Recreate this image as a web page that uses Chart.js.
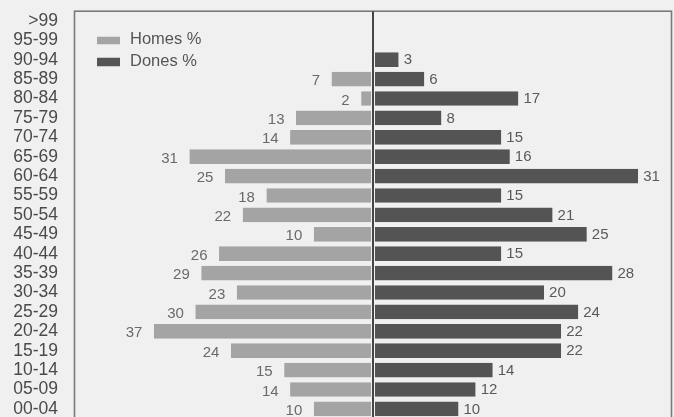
<!DOCTYPE html>
<html>
<head>
<meta charset="utf-8">
<script src="https://cdn.jsdelivr.net/npm/chart.js@4.4.1/dist/chart.umd.min.js"></script>
<style>
  html, body { margin: 0; padding: 0; background: #f0f0f0; overflow: hidden; width: 674px; height: 417px; }
  #wrap { width: 674px; height: 424px; }
</style>
</head>
<body>
<div id="wrap"><canvas id="c" width="674" height="424"></canvas></div>
<script>
const categories = ['>99','95-99','90-94','85-89','80-84','75-79','70-74','65-69','60-64','55-59','50-54','45-49','40-44','35-39','30-34','25-29','20-24','15-19','10-14','05-09','00-04'];
const homes = [null, null, null, 7, 2, 13, 14, 31, 25, 18, 22, 10, 26, 29, 23, 30, 37, 24, 15, 14, 10];
const dones = [null, null, 3, 6, 17, 8, 15, 16, 31, 15, 21, 25, 15, 28, 20, 24, 22, 22, 14, 12, 10];
const seriesNames = ['Homes %', 'Dones %'];
const seriesColors = ['#a4a4a4', '#545454'];
const BG = '#f0f0f0';

const bgPlugin = {
  id: 'bg',
  beforeDraw(chart) {
    const ctx = chart.ctx;
    ctx.save();
    ctx.fillStyle = BG;
    ctx.fillRect(0, 0, chart.width, chart.height);
    ctx.restore();
  }
};

const decorPlugin = {
  id: 'decor',
  afterDatasetsDraw(chart) {
    const ctx = chart.ctx;
    const a = chart.chartArea;
    ctx.save();
    // frame
    ctx.strokeStyle = '#7a7a7a';
    ctx.lineWidth = 1.6;
    ctx.strokeRect(a.left, a.top, a.right - a.left, a.bottom - a.top);
    // centre line
    const x0 = chart.scales.xh.getPixelForValue(0);
    ctx.strokeStyle = '#454545';
    ctx.lineWidth = 2;
    ctx.beginPath();
    ctx.moveTo(x0, a.top);
    ctx.lineTo(x0, a.bottom);
    ctx.stroke();

    // value labels
    ctx.font = '15px "Liberation Sans", Arial, sans-serif';
    ctx.textBaseline = 'middle';
    chart.data.datasets.forEach((ds, di) => {
      const meta = chart.getDatasetMeta(di);
      const src = di === 0 ? homes : dones;
      meta.data.forEach((bar, i) => {
        const v = src[i];
        if (v === null || v === undefined) return;
        if (di === 0) {
          ctx.fillStyle = '#6a6a6a';
          ctx.textAlign = 'right';
          ctx.fillText(String(v), bar.x - 11.5, bar.y + 2);
        } else {
          ctx.fillStyle = '#5a5a5a';
          ctx.textAlign = 'left';
          ctx.fillText(String(v), bar.x + 5, bar.y + 0.5);
        }
      });
    });

    // legend
    ctx.font = '16.5px "Liberation Sans", Arial, sans-serif';
    ctx.textAlign = 'left';
    ctx.textBaseline = 'middle';
    const items = [{y: 40.5, h: 7.5}, {y: 62, h: 8.5}];
    chart.data.datasets.forEach((ds, di) => {
      const it = items[di];
      ctx.fillStyle = ds.backgroundColor;
      ctx.fillRect(97, it.y - it.h / 2, 23, it.h);
      ctx.fillStyle = '#555555';
      ctx.fillText(ds.label, 130, it.y - 1);
    });
    ctx.restore();
  }
};

new Chart(document.getElementById('c'), {
  type: 'bar',
  data: {
    labels: categories,
    datasets: [
      {
        label: seriesNames[0],
        data: homes.map(v => v === null ? null : -v),
        backgroundColor: seriesColors[0],
        borderColor: BG,
        borderWidth: {left: 0, top: 0, bottom: 0, right: 2},
        borderSkipped: false,
        xAxisID: 'xh',
        grouped: false,
        barPercentage: 0.76,
        categoryPercentage: 1
      },
      {
        label: seriesNames[1],
        data: dones,
        backgroundColor: seriesColors[1],
        borderColor: BG,
        borderWidth: {left: 2, top: 0, bottom: 0, right: 0},
        borderSkipped: false,
        xAxisID: 'xd',
        grouped: false,
        barPercentage: 0.76,
        categoryPercentage: 1
      }
    ]
  },
  options: {
    indexAxis: 'y',
    responsive: false,
    animation: false,
    devicePixelRatio: 1,
    layout: { padding: { top: 11.2, right: 2.5, bottom: 5.4, left: 0 } },
    plugins: { legend: { display: false }, tooltip: { enabled: false } },
    scales: {
      xh: { type: 'linear', position: 'bottom', min: -50.4, max: 50.4, display: false },
      xd: { type: 'linear', position: 'bottom', min: -34.9, max: 34.9, display: false },
      y: {
        type: 'category',
        grid: { display: false, drawTicks: false },
        border: { display: false },
        afterFit(scale) { scale.width = 74.5; scale.paddingTop = 0; scale.paddingBottom = 0; },
        ticks: {
          autoSkip: false,
          padding: 16.5,
          color: '#4a4a4a',
          font: { family: '"Liberation Sans", Arial, sans-serif', size: 17.5 }
        }
      }
    }
  },
  plugins: [bgPlugin, decorPlugin]
});
</script>
</body>
</html>
